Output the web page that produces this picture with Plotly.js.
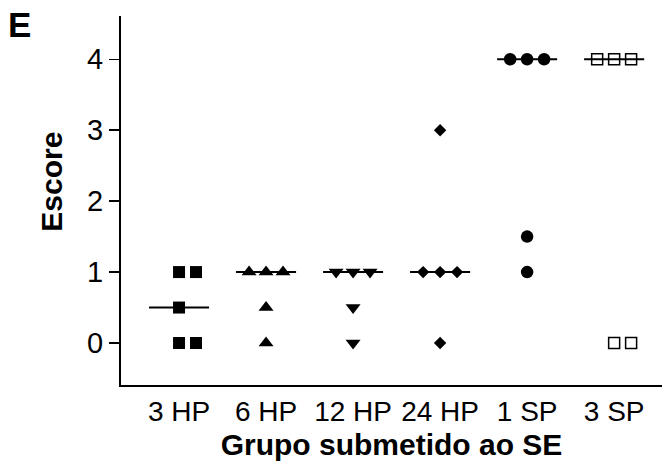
<!DOCTYPE html>
<html>
<head>
<meta charset="utf-8">
<script src="https://cdn.plot.ly/plotly-3.0.1.min.js"></script>
<style>html,body{margin:0;padding:0;background:#fff;}#chart{width:663px;height:470px;}</style>
</head>
<body>
<div id="chart"></div>
<script>
// ---- data ----
var categories = ['3 HP', '6 HP', '12 HP', '24 HP', '1 SP', '3 SP'];
var scores3HP  = [1, 1, 0.5, 0, 0];
var scores6HP  = [1, 1, 1, 0.5, 0];
var scores12HP = [1, 1, 1, 0.5, 0];
var scores24HP = [3, 1, 1, 1, 0];
var scores1SP  = [4, 4, 4, 1.5, 1];
var scores3SP  = [4, 4, 4, 0, 0];
var yTicks = [0, 1, 2, 3, 4];

var groups = [scores3HP, scores6HP, scores12HP, scores24HP, scores1SP, scores3SP];
var symbols = ['square', 'triangle-up', 'triangle-down', 'diamond', 'circle', 'square-open'];
var sizes = [12, 13, 13, 9.5, 12.5, 11];

var JIT = 0.195;   // horizontal spread of tied points (category units)
var HALF = 0.345;  // half width of median bar

function median(a) {
  var s = a.slice().sort(function (p, q) { return p - q; });
  var n = s.length;
  return n % 2 ? s[(n - 1) / 2] : (s[n / 2 - 1] + s[n / 2]) / 2;
}

var traces = [];
groups.forEach(function (vals, gi) {
  var m = median(vals);
  traces.push({
    x: [gi - HALF, gi + HALF], y: [m, m],
    mode: 'lines', line: {color: '#000', width: 2},
    hoverinfo: 'skip', showlegend: false
  });
});
groups.forEach(function (vals, gi) {
  // count ties per value, then spread them sideways
  var counts = {}, seen = {};
  vals.forEach(function (v) { counts[v] = (counts[v] || 0) + 1; });
  var xs = [], ys = [];
  vals.forEach(function (v) {
    var k = seen[v] || 0; seen[v] = k + 1;
    var n = counts[v];
    var off = (k - Math.floor((n - 1) / 2)) * JIT;
    xs.push(gi + off); ys.push(v);
  });
  traces.push({
    x: xs, y: ys, mode: 'markers', name: categories[gi],
    marker: {symbol: symbols[gi], size: sizes[gi], color: '#000',
             line: {color: '#000', width: symbols[gi] === 'square-open' ? 1.5 : 0}},
    showlegend: false
  });
});

var FONT = 'Liberation Sans, Arial, Helvetica, sans-serif';
var layout = {
  width: 663, height: 470,
  margin: {l: 121, r: 1, t: 16, b: 85, pad: 0},
  paper_bgcolor: '#fff', plot_bgcolor: '#fff',
  font: {family: FONT, color: '#000', size: 28},
  showlegend: false,
  xaxis: {
    range: [-0.667, 5.55], tickmode: 'array',
    tickvals: categories.map(function (c, i) { return i; }),
    ticktext: categories,
    showline: true, linecolor: '#000', linewidth: 2,
    ticks: '', showgrid: false, zeroline: false,
    tickfont: {size: 28, family: FONT},
    title: {text: 'Grupo submetido ao SE', font: {size: 30, family: FONT, weight: 'bold'}, standoff: 8}
  },
  yaxis: {
    range: [-0.592, 4.61], tickmode: 'array', tickvals: yTicks,
    showline: true, linecolor: '#000', linewidth: 2,
    ticks: 'outside', ticklen: 10, tickwidth: 1.5, tickcolor: '#000',
    showgrid: false, zeroline: false,
    tickfont: {size: 29, family: FONT}
  },
  annotations: [
    {text: 'Escore', xref: 'paper', yref: 'paper', x: -0.13, y: 0.55,
     xanchor: 'center', yanchor: 'middle', textangle: -90, showarrow: false,
     font: {size: 30, family: FONT, weight: 'bold'}},
    {text: 'E', xref: 'paper', yref: 'paper', x: -0.213, y: 0.977,
     xanchor: 'left', yanchor: 'middle', showarrow: false,
     font: {size: 35, family: FONT, weight: 'bold'}}
  ]
};

Plotly.newPlot('chart', traces, layout, {displayModeBar: false, staticPlot: true});
</script>
</body>
</html>
